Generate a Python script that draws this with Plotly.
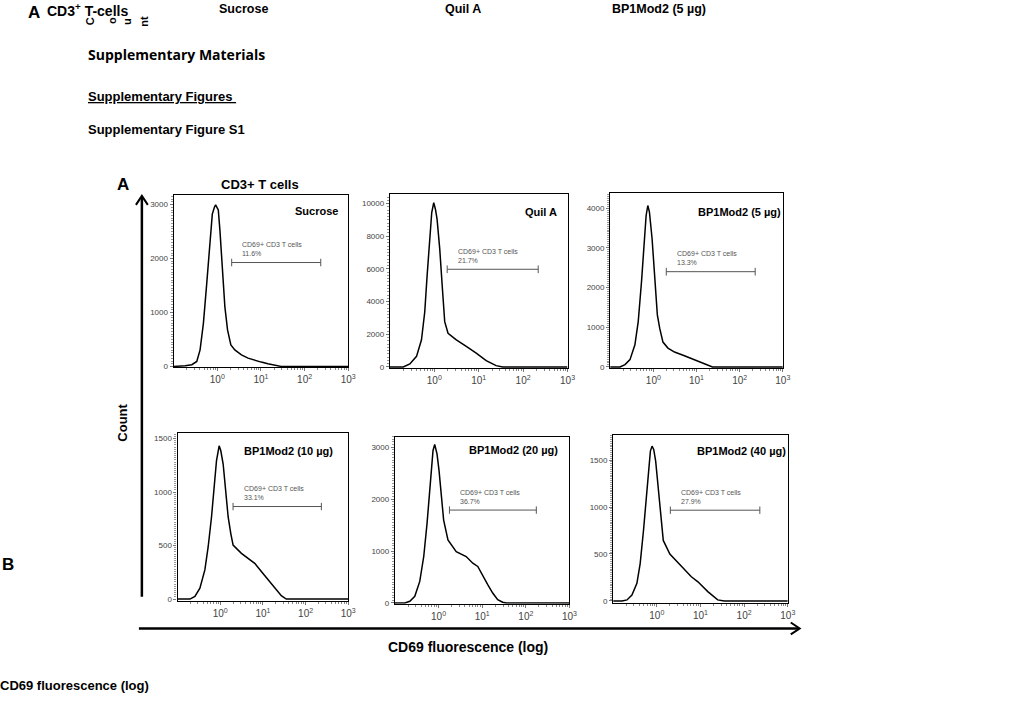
import plotly.graph_objects as go

W, H = 1020, 720

# ---------------- data ----------------
panel_names = ["Sucrose", "Quil A", "BP1Mod2 (5 µg)",
               "BP1Mod2 (10 µg)", "BP1Mod2 (20 µg)", "BP1Mod2 (40 µg)"]
gate_label = "CD69+ CD3 T cells"
gate_pct = ["11.6%", "21.7%", "13.3%", "33.1%", "36.7%", "27.9%"]
gate_lo_log10 = [0.33, 0.29, 0.30, 0.30, 0.25, 0.31]
gate_hi_log10 = [2.37, 2.34, 2.36, 2.37, 2.24, 2.36]

y_tick_vals = [[0, 1000, 2000, 3000],
               [0, 2000, 4000, 6000, 8000, 10000],
               [0, 1000, 2000, 3000, 4000],
               [0, 500, 1000, 1500],
               [0, 1000, 2000, 3000],
               [0, 500, 1000, 1500]]
y_axis_max = [3180, 10590, 4384, 1556, 3204, 1771]
y_axis_min = [-10, -61, -25, -15, -13, -18]

x_tick_vals = [1, 10, 100, 1000]
x_tick_text = ["10<sup>0</sup>", "10<sup>1</sup>", "10<sup>2</sup>", "10<sup>3</sup>"]

# CD69 fluorescence (log10) and event counts
sucrose_log10 = [-1.0, -0.962, -0.735, -0.583, -0.47, -0.394, -0.318, -0.242, -0.167,
                 -0.114, -0.068, -0.038, -0.008, 0.023, 0.061, 0.098, 0.136, 0.174,
                 0.235, 0.311, 0.402, 0.553, 0.705, 0.856, 1.008, 1.159, 1.311, 1.462, 3.0]
sucrose_count = [0, 0, 12, 31, 92, 307, 798, 1535, 2333,
                 2824, 2947, 2996, 2950, 2900, 2517, 2026, 1535, 1105,
                 676, 399, 307, 215, 153, 111, 80, 49, 18, 0, 0]

quila_log10 = [-1.0, -0.70, -0.551, -0.401, -0.289, -0.215, -0.162, -0.102, -0.058,
               -0.013, 0.025, 0.062, 0.122, 0.182, 0.234, 0.309, 0.496, 0.720, 0.944,
               1.168, 1.392, 1.542, 3.0]
quila_count = [0, 0, 182, 648, 1660, 3380, 5606, 8238, 9452,
               10059, 9654, 9047, 7226, 4797, 2773, 2064, 1660, 1255, 850,
               385, 81, 0, 0]

bp5_log10 = [-1.0, -0.771, -0.656, -0.541, -0.427, -0.350, -0.274, -0.213, -0.167,
             -0.128, -0.090, -0.029, 0.032, 0.093, 0.147, 0.223, 0.338, 0.491, 0.720,
             0.950, 1.179, 1.370, 3.0]
bp5_count = [0, 0, 58, 184, 559, 1144, 2146, 3148, 3816,
             4066, 3899, 3231, 2313, 1311, 977, 626, 476, 376, 284,
             184, 67, 0, 0]

bp10_log10 = [-1.0, -0.711, -0.594, -0.477, -0.361, -0.283, -0.205, -0.143, -0.088,
              -0.026, 0.013, 0.068, 0.122, 0.185, 0.247, 0.301, 0.496, 0.652, 0.808,
              0.963, 1.119, 1.275, 1.431, 1.547, 3.0]
bp10_count = [0, 0, 25, 102, 272, 489, 767, 1076, 1293,
              1432, 1386, 1262, 1015, 767, 612, 504, 427, 380, 334,
              257, 179, 102, 31, 0, 0]

bp20_log10 = [-1.0, -0.772, -0.658, -0.544, -0.430, -0.339, -0.263, -0.202, -0.156,
              -0.126, -0.088, -0.035, 0.011, 0.064, 0.117, 0.216, 0.405, 0.633, 0.785,
              0.899, 1.013, 1.127, 1.241, 1.355, 1.469, 1.55, 3.0]
bp20_count = [0, 0, 32, 128, 415, 894, 1532, 2170, 2681,
              2936, 3051, 2872, 2553, 2043, 1596, 1213, 989, 894, 766,
              702, 511, 351, 191, 64, 13, 0, 0]

bp40_log10 = [-1.0, -0.797, -0.683, -0.570, -0.456, -0.381, -0.305, -0.245, -0.192,
              -0.147, -0.109, -0.071, -0.026, 0.020, 0.073, 0.148, 0.299, 0.451, 0.639,
              0.791, 0.942, 1.168, 1.395, 1.546, 3.0]
bp40_count = [0, 0, 11, 63, 187, 398, 750, 1102, 1419,
              1595, 1648, 1613, 1489, 1243, 961, 644, 500, 426, 327,
              257, 204, 99, 11, 0, 0]

series_log10 = [sucrose_log10, quila_log10, bp5_log10, bp10_log10, bp20_log10, bp40_log10]
series_count = [sucrose_count, quila_count, bp5_count, bp10_count, bp20_count, bp40_count]

# ---------------- layout geometry (pixels) ----------------
box_px = [  # left, right, top, bottom
    (175, 351, 196, 369),
    (393, 572, 195, 370),
    (615, 789, 194, 370),
    (179, 351, 435, 604),
    (398, 574, 439, 607),
    (618, 794, 437, 606),
]
title_pos = [(0.955, 0.907), (0.95, 0.897), (1.0, 0.892),
             (0.924, 0.893), (0.943, 0.917), (1.0, 0.905)]
gate_y = [0.607, 0.567, 0.55, 0.56, 0.56, 0.55]

FONT = "Arial, Liberation Sans, sans-serif"


def px(x):
    return x / W


def py(y):
    return 1 - y / H


fig = go.Figure()
layout = dict(
    width=W, height=H,
    margin=dict(l=0, r=0, t=0, b=0),
    paper_bgcolor="white", plot_bgcolor="white",
    showlegend=False,
    font=dict(family=FONT, color="black"),
)

minor_x = [m * 10 ** k for k in range(-1, 3) for m in range(2, 10)]

annotations = []
shapes = []

for i in range(6):
    n = i + 1
    xa = "x" if n == 1 else f"x{n}"
    ya = "y" if n == 1 else f"y{n}"
    xkey = "xaxis" if n == 1 else f"xaxis{n}"
    ykey = "yaxis" if n == 1 else f"yaxis{n}"
    l, r, t, b = box_px[i]

    fig.add_trace(go.Scatter(
        x=[10 ** v for v in series_log10[i]], y=series_count[i],
        mode="lines", line=dict(color="black", width=1.5),
        xaxis=xa, yaxis=ya, hoverinfo="skip"))

    layout[xkey] = dict(
        domain=[px(l), px(r)], anchor=ya, type="log", range=[-1, 3],
        showline=True, linecolor="black", linewidth=1.2, mirror=True,
        showgrid=False, zeroline=False,
        tickmode="array", tickvals=x_tick_vals, ticktext=x_tick_text,
        ticks="outside", ticklen=3, tickcolor="#777", tickwidth=1,
        tickfont=dict(size=10, color="#444", family=FONT),
        minor=dict(tickmode="array", tickvals=minor_x, ticks="outside",
                   ticklen=2, tickcolor="#888", showgrid=False),
        fixedrange=True,
    )
    layout[ykey] = dict(
        domain=[py(b), py(t)], anchor=xa,
        range=[y_axis_min[i], y_axis_max[i]],
        showline=True, linecolor="black", linewidth=1.2, mirror=True,
        showgrid=False, zeroline=False,
        tickmode="array", tickvals=y_tick_vals[i],
        ticktext=[str(v) for v in y_tick_vals[i]],
        ticks="outside", ticklen=3, tickcolor="#777", tickwidth=1,
        tickfont=dict(size=8, color="#444", family=FONT),
        minor=dict(ticks="outside", ticklen=2, tickcolor="#999", nticks=20,
                   showgrid=False),
        fixedrange=True,
    )

    # panel title
    tx, ty = title_pos[i]
    annotations.append(dict(
        text=f"<b>{panel_names[i]}</b>", xref=f"{xa} domain", yref=f"{ya} domain",
        x=tx, y=ty, xanchor="right", yanchor="middle", showarrow=False,
        font=dict(size=11, family=FONT, color="black")))

    # gate bar
    g0 = 10 ** gate_lo_log10[i]
    g1 = 10 ** gate_hi_log10[i]
    gy = gate_y[i]
    line_style = dict(color="#555", width=1)
    shapes.append(dict(type="line", xref=xa, yref=f"{ya} domain",
                       x0=g0, x1=g1, y0=gy, y1=gy, line=line_style))
    for gx in (g0, g1):
        shapes.append(dict(type="line", xref=xa, yref=f"{ya} domain",
                           x0=gx, x1=gx, y0=gy - 0.022, y1=gy + 0.022, line=line_style))
    annotations.append(dict(
        text=f"{gate_label}<br>{gate_pct[i]}", xref=xa, yref=f"{ya} domain",
        x=gate_lo_log10[i] + 0.2, y=gy + 0.02, xanchor="left", yanchor="bottom",
        align="left", showarrow=False,
        font=dict(size=7, family=FONT, color="#555")))


def paper_text(text, x, y, size, bold=True, xanchor="left", angle=0,
               family=FONT, color="black"):
    annotations.append(dict(
        text=f"<b>{text}</b>" if bold else text, xref="paper", yref="paper",
        x=px(x), y=py(y), xanchor=xanchor, yanchor="middle", showarrow=False,
        textangle=angle, font=dict(size=size, family=family, color=color)))


# stray header texts (top of page)
paper_text("A", 26, 13, 17)
paper_text("CD3<sup>+</sup> T-cells", 45, 10, 14)
for ch, cx in [("C", 91, ), ("o", 113), ("u", 128), ("nt", 145)]:
    paper_text(ch, cx, 21, 11, angle=-90, xanchor="center")
paper_text("Sucrose", 219, 9, 12.5)
paper_text("Quil A", 446, 9, 12.5)
paper_text("BP1Mod2 (5 µg)", 615, 9, 12.5)

paper_text("Supplementary Materials", 87, 55, 14, family="Open Sans, sans-serif")
paper_text("<u>Supplementary Figures </u>", 87, 97, 13)
paper_text("Supplementary Figure S1", 87, 130, 13)

paper_text("A", 116, 186, 17)
paper_text("CD3+ T cells", 262, 186, 13, xanchor="center")
paper_text("Count", 124, 425, 13, angle=-90, xanchor="center")
paper_text("B", 0, 568, 17)
paper_text("CD69 fluorescence (log)", 472, 651, 14, xanchor="center")
paper_text("CD69 fluorescence (log)", -2, 689, 13)

# outer axes arrows
arrow = dict(color="black", width=2.5)
shapes.append(dict(type="line", xref="paper", yref="paper",
                   x0=px(143), x1=px(143), y0=py(600), y1=py(198), line=arrow))
shapes.append(dict(type="path", xref="paper", yref="paper",
                   path=f"M {px(137)} {py(206)} L {px(143)} {py(197)} L {px(149)} {py(206)}",
                   line=dict(color="black", width=2)))
shapes.append(dict(type="line", xref="paper", yref="paper",
                   x0=px(140), x1=px(805), y0=py(632), y1=py(632), line=arrow))
shapes.append(dict(type="path", xref="paper", yref="paper",
                   path=f"M {px(797)} {py(626)} L {px(806)} {py(632)} L {px(797)} {py(638)}",
                   line=dict(color="black", width=2)))

layout["annotations"] = annotations
layout["shapes"] = shapes
fig.update_layout(**layout)
fig.write_html("out.html",
               config={"displayModeBar": False},
               post_script="document.body.style.margin='0';document.body.style.padding='0';")
